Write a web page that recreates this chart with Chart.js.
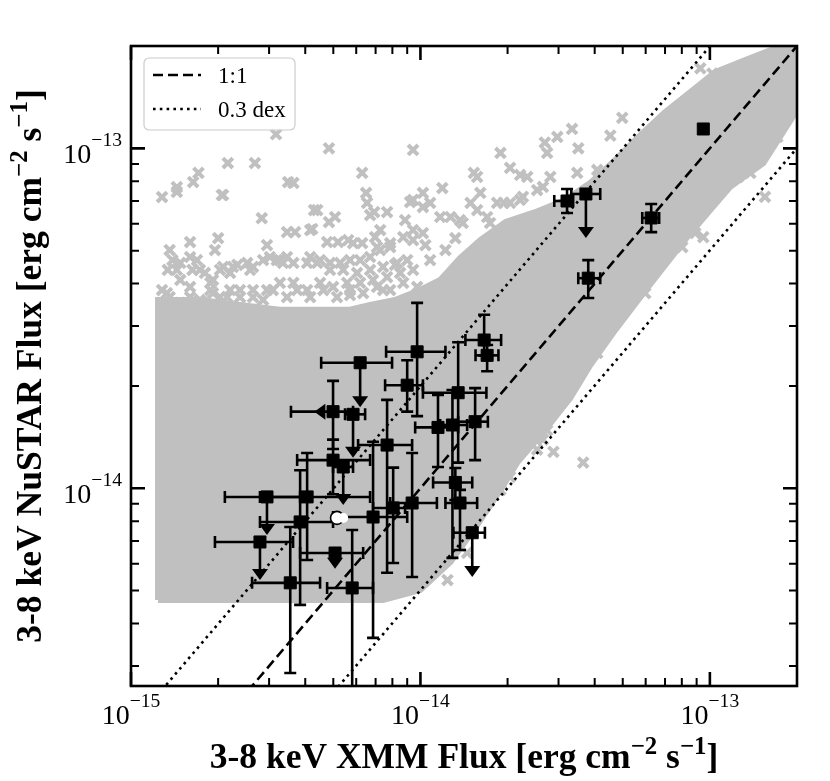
<!DOCTYPE html>
<html>
<head>
<meta charset="utf-8">
<script src="https://cdn.jsdelivr.net/npm/chart.js@4.4.1/dist/chart.umd.min.js"></script>
<style>
html,body{margin:0;padding:0;background:#fff;}
#wrap{width:830px;height:781px;position:relative;}
</style>
</head>
<body>
<div id="wrap"><canvas id="c" width="830" height="781"></canvas></div>
<script>
// ---------------- DATA (fluxes in units of 1e-15 erg cm^-2 s^-1) ----------------
const UNIT = 1e-15;

// dense core of the comparison sample (outline of the solid grey region)
const coreX = [1.24, 7.43, 9.98, 12.7, 15.7, 18.9, 21.6, 26.9, 32.9, 38.6, 47.1, 58.9, 70.1, 83.5, 100.3, 117.6, 153, 200, 200,
               162, 132.5, 104.3, 85.6, 70.1, 57.5, 47.1, 38.6, 31.6, 24.9, 19.7, 16.1, 13.7, 11.7, 9.98, 8.17, 6.70, 5.71, 4.50, 3.27, 2.38, 1.73, 1.24, 1.24];
const coreY = [4.69, 4.69, 5.02, 6.07, 7.80, 9.89, 11.9, 14.8, 18.4, 23.0, 29.2, 37.5, 45.3, 54.8, 65.8, 77.0, 90.5, 129.6, 199,
               194.5, 181.8, 167.6, 146.4, 127.8, 109.4, 92.4, 79.1, 70.5, 64.9, 60.7, 53.7, 47.5, 41.0, 38.3, 35.8, 34.6, 33.5, 33.5, 33.5, 34.6, 35.8, 35.8, 4.69];

// individual comparison-sample sources outside the dense core
const cloudX = [3.17,4.83,9.43,2.16,2.68,1.71,1.44,1.28,1.64,2.06,3.49,3.64,6.29,6.49,6.54,4.29,2.83,4.83,5.07,6.92,
  7.67,3.46,3.69,4.23,5.19,5.63,6.29,1.60,2.0,1.95,2.95,6.97,7.26,9.21,8.85,1.36,1.39,1.34,1.48,1.69,
  1.73,1.80,1.92,2.08,2.20,2.33,2.52,2.64,2.86,3.02,3.27,3.46,3.64,4.06,4.50,4.87,5.28,5.71,6.19,6.70,
  7.26,7.86,8.72,9.43,1.33,1.48,1.60,1.77,1.92,2.15,2.38,2.64,2.95,3.27,3.64,4.06,4.50,4.99,5.58,6.19,
  6.86,7.67,8.51,9.43,49.8,33.4,26.9,29.7,35.1,27.4,
  18.9,45.3,20.4,22.1,23.4,28.1,34.8,40.8,15.3,15.7,11.9,10.2,16.1,14.9,10.8,12.7,14.0,17.0,18.4,20.4,
  22.6,25.3,26.5,40.8,44.2,92.7,102,83.5,90.5,75.9,71.2,66.3,58.9,124,138,171,185,146,138,125,
  155,89.0,94.9,80.3,65.7,62.2,59.8,50.2,45.3,40.8,36.5,33.7,36.5,28.8,26.5,27.4,25.3,20.4,18.9,17.0,
  14.5,12.4,10.8,12.2,13.2,10.4,8.17,7.43,5.71,
  1.44,2.08,4.40,6.70,4.16,4.76,5.85,7.08,7.86,9.43,10.2,9.43,10.2,11.7,13.7,15.7,17.4,19.4,22.1,1.60,
  1.63,1.44,1.48,1.88,2.03,2.25,2.58,3.19,3.35,4.16,4.40,4.87,5.41,6.04,6.70,7.43,8.31,9.0,1.28,1.36,
  1.60,1.73,1.88,2.03,2.20,2.38,2.64,2.86,3.09,3.46,3.75,4.16,4.62,5.15,5.71,6.34,7.08,7.86,8.72,9.74];
const cloudY = [110,100,98.9,90.5,90.5,84.7,76.9,71.9,79.6,72.9,79.6,79.1,84.7,73.9,69.1,65.8,62.3,60.7,62.8,64.9,
  64.9,56.7,56.7,57.9,53.0,53.7,52.6,53.0,54.4,50.2,51.9,54.8,57.5,69.5,61.5,50.2,46.9,43.9,46.0,46.9,
  43.9,43.0,41.0,44.8,43.0,45.4,46.0,44.8,46.9,47.9,46.9,47.9,46.0,46.0,46.9,46.0,46.0,46.9,46.9,47.9,
  50.2,52.6,54.8,57.5,37.5,35.1,36.5,35.1,37.5,36.5,38.3,36.5,38.3,40.2,40.2,38.3,40.2,39.1,40.2,40.2,
  41.0,41.8,43.0,43.9,123,114,104,108,100,96.9,
  96.9,109,87.6,83.5,82.4,82.4,84.7,86.4,84.7,82.4,76.4,73.9,73.9,69.1,69.1,62.8,60.3,62.8,69.1,69.1,
  72.0,75.4,77.0,79.1,82.4,172,166,137,129.6,123.6,115.5,115.5,105.8,170,162,108,139,94.3,84.7,82.4,
  72.0,56.3,54.8,51.2,46.0,43.9,37.5,35.1,32.8,25.0,23.3,21.2,11.9,12.8,13.9,14.8,13.0,10.8,9.89,9.05,
  6.46,5.37,46.9,50.2,54.4,51.9,45.4,38.3,37.0,
  74.4,72.9,65.8,63.6,57.5,53.0,52.6,51.2,51.2,53.7,56.3,70.5,67.2,62.8,61.5,65.8,60.3,69.1,70.5,47.9,
  43.9,43.9,41.0,40.2,43.9,44.8,43.9,46.9,46.0,47.9,46.0,43.9,43.9,43.0,43.9,44.8,46.0,46.9,38.3,36.5,
  39.1,35.8,38.3,36.5,38.3,36.5,38.3,35.8,38.3,36.5,38.3,36.5,38.3,36.5,38.3,37.5,39.1,38.3,40.2,39.1];

// NuSTAR-detected sources: XMM flux (x) and NuSTAR flux (y) with error ranges
const srcX   = [94.9, 32.1, 37.3, 62.7, 38.0, 16.6, 17.0, 9.74, 6.19, 9.0, 4.99, 5.85, 7.67, 13.5, 11.5, 12.9, 15.45, 13.2, 13.7, 15.1, 9.36, 8.05, 6.86, 5.81, 5.07, 5.41, 4.99, 4.06, 3.84, 2.95, 2.79, 3.55];
const srcXlo = [null, 29.0, 33.2, 58.4, 35.1, 14.3, 15.5, 7.61, 4.54, 7.55, 3.57, 5.49, 6.09, 10.2, 9.59, 11.7, 13.5, 11.06, 12.2, 13.0, 7.86, 6.86, 4.99, 4.76, 3.84, 4.99, 3.75, 2.79, 2.79, 2.11, 1.95, 2.62];
const srcXhi = [null, 33.7, 41.8, 66.8, 41.8, 19.0, 18.6, 12.2, 7.98, 10.2, 5.85, 6.44, 9.36, 16.9, 13.5, 14.5, 17.1, 15.1, 15.7, 16.7, 11.4, 8.85, 9.0, 6.86, 6.34, 5.85, 6.70, 6.70, 4.99, 3.84, 3.63, 4.50];
const srcY   = [114, 70.0, 73.4, 62.4, 41.5, 27.3, 24.6, 25.2, 23.4, 20.1, 16.8, 16.5, 13.4, 19.1, 15.1, 15.35, 15.7, 10.4, 9.05, 7.4, 9.05, 8.75, 8.23, 5.09, 6.45, 11.55, 12.1, 9.43, 7.96, 9.43, 6.95, 5.27];
const srcYlo = [null, 64.5, null, 56.7, 36.3, 24.6, 22.1, 16.3, null, 16.8, 13.05, null, 5.64, 11.9, 11.55, 6.24, 12.1, 9.24, 6.58, null, 5.48, 6.03, 3.63, 2.4, null, null, 9.6, 6.15, 4.54, null, null, 2.86];
const srcYhi = [null, 75.9, null, 68.6, 46.9, 32.4, 26.4, 35.1, null, 23.8, 20.7, null, 18.2, 26.9, 18.8, 19.45, 19.7, 11.47, 9.89, null, 12.7, 11.5, 13.7, 7.54, null, null, 13.9, 12.7, 11.3, null, null, 7.69];
// NuSTAR upper limits (arrow end) and XMM upper limit (left arrow end)
const srcYupper = [null, null, 54.5, null, null, null, null, null, 17.3, null, null, 12.3, null, null, null, null, null, null, null, 5.48, null, null, null, null, 5.8, 8.93, null, null, null, 7.29, 5.37, null];
const srcXupper = [null, null, null, null, null, null, null, null, null, null, 4.3, null, null, null, null, null, null, null, null, null, null, null, null, null, null, null, null, null, null, null, null, null];

// highlighted source (circle markers)
const specialX = [5.15, 5.41];
const specialY = [8.18, 8.18];

// reference relations
const oneToOneX = [1, 200];
const dexOffset = 0.3;

// axes
const xLimits = [1, 200];
const yLimits = [2.62, 200];
const xMajorTicks = [1, 10, 100];
const yMajorTicks = [10, 100];
const xTickExp = ['\u221215', '\u221214', '\u221213'];
const yTickExp = ['\u221214', '\u221213'];

const xTitle = [{t: '3-8 keV XMM Flux [erg cm'}, {t: '\u22122', sup: true}, {t: ' s'}, {t: '\u22121', sup: true}, {t: ']'}];
const yTitle = [{t: '3-8 keV NuSTAR Flux [erg cm'}, {t: '\u22122', sup: true}, {t: ' s'}, {t: '\u22121', sup: true}, {t: ']'}];
const legendLabels = ['1:1', '0.3 dex'];

// ---------------- helpers ----------------
const pts = (xs, ys) => xs.map((x, i) => ({x: x * UNIT, y: ys[i] * UNIT}));
const GREY = '#c0c0c0';
const SERIF = '"Liberation Serif", "Times New Roman", serif';

function drawSegs(ctx, segs, x, y, size, bold, align, supRaise) {
  const w = bold ? 'bold ' : '';
  let total = 0;
  const widths = segs.map(s => {
    ctx.font = w + (s.sup ? size * 0.7 : size) + 'px ' + SERIF;
    const m = ctx.measureText(s.t).width;
    total += m;
    return m;
  });
  let cx = align === 'center' ? x - total / 2 : (align === 'right' ? x - total : x);
  segs.forEach((s, i) => {
    ctx.font = w + (s.sup ? size * 0.7 : size) + 'px ' + SERIF;
    ctx.textAlign = 'left';
    ctx.textBaseline = 'alphabetic';
    ctx.fillText(s.t, cx, s.sup ? y - supRaise : y);
    cx += widths[i];
  });
}

const srcIndex = 1;

const decorPlugin = {
  id: 'decor',
  beforeDatasetDraw(chart, args) {
    if (args.index !== srcIndex) return;
    const ctx = chart.ctx, xs = chart.scales.x, ys = chart.scales.y, a = chart.chartArea;
    ctx.save();
    ctx.beginPath();
    ctx.rect(a.left, a.top, a.width, a.height);
    ctx.clip();
    ctx.strokeStyle = '#000';
    ctx.fillStyle = '#000';
    ctx.lineWidth = 2.6;
    ctx.lineCap = 'butt';
    const cap = 6;
    const P = (v, s) => s.getPixelForValue(v * UNIT);
    for (let i = 0; i < srcX.length; i++) {
      const px = P(srcX[i], xs), py = P(srcY[i], ys);
      if (srcXlo[i] != null) {
        const x1 = P(srcXlo[i], xs), x2 = P(srcXhi[i], xs);
        ctx.beginPath(); ctx.moveTo(x1, py); ctx.lineTo(x2, py); ctx.stroke();
        ctx.beginPath(); ctx.moveTo(x1, py - cap); ctx.lineTo(x1, py + cap);
        ctx.moveTo(x2, py - cap); ctx.lineTo(x2, py + cap); ctx.stroke();
      }
      if (srcYlo[i] != null) {
        const y1 = P(srcYlo[i], ys), y2 = P(srcYhi[i], ys);
        ctx.beginPath(); ctx.moveTo(px, y1); ctx.lineTo(px, y2); ctx.stroke();
        ctx.beginPath(); ctx.moveTo(px - cap, y1); ctx.lineTo(px + cap, y1);
        ctx.moveTo(px - cap, y2); ctx.lineTo(px + cap, y2); ctx.stroke();
      }
      if (srcYupper[i] != null) {
        const ty = P(srcYupper[i], ys);
        ctx.beginPath(); ctx.moveTo(px, py); ctx.lineTo(px, ty - 6); ctx.stroke();
        ctx.beginPath(); ctx.moveTo(px - 8, ty - 11); ctx.lineTo(px + 8, ty - 11); ctx.lineTo(px, ty); ctx.closePath(); ctx.fill();
      }
      if (srcXupper[i] != null) {
        const tx = P(srcXupper[i], xs);
        ctx.beginPath(); ctx.moveTo(tx, py); ctx.lineTo(tx + 11, py - 8); ctx.lineTo(tx + 11, py + 8); ctx.closePath(); ctx.fill();
      }
    }
    ctx.restore();
  },
  afterDraw(chart) {
    const ctx = chart.ctx, xs = chart.scales.x, ys = chart.scales.y, a = chart.chartArea;
    ctx.save();
    ctx.strokeStyle = '#000';
    ctx.fillStyle = '#000';
    ctx.lineCap = 'butt';
    // ticks (inward, all four sides)
    const xMinor = [], yMinor = [];
    xMajorTicks.forEach(d => { for (let k = 2; k <= 9; k++) if (d * k <= xLimits[1] + 1e-9) xMinor.push(d * k); });
    [1, 10, 100].forEach(d => { for (let k = 2; k <= 9; k++) { const v = d * k; if (v >= yLimits[0] && v <= yLimits[1] + 1e-9) yMinor.push(v); } });
    const tickX = (vals, len, lw) => {
      ctx.lineWidth = lw;
      vals.forEach(v => {
        const p = xs.getPixelForValue(v * UNIT);
        ctx.beginPath();
        ctx.moveTo(p, a.bottom); ctx.lineTo(p, a.bottom - len);
        ctx.moveTo(p, a.top); ctx.lineTo(p, a.top + len);
        ctx.stroke();
      });
    };
    const tickY = (vals, len, lw) => {
      ctx.lineWidth = lw;
      vals.forEach(v => {
        const p = ys.getPixelForValue(v * UNIT);
        ctx.beginPath();
        ctx.moveTo(a.left, p); ctx.lineTo(a.left + len, p);
        ctx.moveTo(a.right, p); ctx.lineTo(a.right - len, p);
        ctx.stroke();
      });
    };
    tickX(xMinor, 8, 2);
    tickY(yMinor, 8, 2);
    tickX(xMajorTicks, 14, 2.6);
    tickY(yMajorTicks, 14, 2.6);
    // frame
    ctx.lineWidth = 2.6;
    ctx.strokeRect(a.left, a.top, a.width, a.height);

    // tick labels
    xMajorTicks.forEach((v, i) => {
      const p = xs.getPixelForValue(v * UNIT);
      drawSegs(ctx, [{t: '10'}, {t: xTickExp[i], sup: true}], p, a.bottom + 38, 28, false, 'center', 17);
    });
    yMajorTicks.forEach((v, i) => {
      const p = ys.getPixelForValue(v * UNIT);
      drawSegs(ctx, [{t: '10'}, {t: yTickExp[i], sup: true}], a.left - 9, p + 15, 28, false, 'right', 17);
    });

    // axis titles
    drawSegs(ctx, xTitle, (a.left + a.right) / 2, 768, 35.5, true, 'center', 14);
    ctx.save();
    ctx.translate(41, (a.top + a.bottom) / 2);
    ctx.rotate(-Math.PI / 2);
    drawSegs(ctx, yTitle, 0, 0, 35.5, true, 'center', 14);
    ctx.restore();

    // legend
    const lx = a.left + 13, ly = a.top + 12, lw = 151, lh = 72, r = 5;
    ctx.beginPath();
    ctx.moveTo(lx + r, ly); ctx.lineTo(lx + lw - r, ly); ctx.arcTo(lx + lw, ly, lx + lw, ly + r, r);
    ctx.lineTo(lx + lw, ly + lh - r); ctx.arcTo(lx + lw, ly + lh, lx + lw - r, ly + lh, r);
    ctx.lineTo(lx + r, ly + lh); ctx.arcTo(lx, ly + lh, lx, ly + lh - r, r);
    ctx.lineTo(lx, ly + r); ctx.arcTo(lx, ly, lx + r, ly, r);
    ctx.closePath();
    ctx.fillStyle = 'rgba(255,255,255,0.8)';
    ctx.fill();
    ctx.strokeStyle = '#cccccc';
    ctx.lineWidth = 1.2;
    ctx.stroke();
    ctx.strokeStyle = '#000';
    ctx.lineWidth = 2.6;
    ctx.setLineDash([10, 5]);
    ctx.beginPath(); ctx.moveTo(lx + 9, ly + 17); ctx.lineTo(lx + 57, ly + 17); ctx.stroke();
    ctx.setLineDash([2.6, 4.2]);
    ctx.beginPath(); ctx.moveTo(lx + 9, ly + 51); ctx.lineTo(lx + 57, ly + 51); ctx.stroke();
    ctx.setLineDash([]);
    ctx.fillStyle = '#000';
    drawSegs(ctx, [{t: legendLabels[0]}], lx + 74, ly + 25, 23, false, 'left', 0);
    drawSegs(ctx, [{t: legendLabels[1]}], lx + 74, ly + 59, 23, false, 'left', 0);
    ctx.restore();
  }
};

const dexFactor = Math.pow(10, dexOffset);

const chart = new Chart(document.getElementById('c'), {
  type: 'scatter',
  data: {
    datasets: [
      { // highlighted source
        data: pts(specialX, specialY),
        pointStyle: 'circle',
        pointRadius: [6.5, 5],
        pointBackgroundColor: ['#ffffff', '#ffffff'],
        pointBorderColor: ['#000000', '#ffffff'],
        pointBorderWidth: [1.6, 0],
        order: 0
      },
      { // NuSTAR sources
        data: pts(srcX, srcY),
        pointStyle: 'rect',
        pointRadius: 8.5,
        pointBackgroundColor: '#000',
        pointBorderColor: '#000',
        pointBorderWidth: 1,
        order: 1
      },
      { // 1:1
        data: oneToOneX.map(v => ({x: v * UNIT, y: v * UNIT})),
        showLine: true, borderColor: '#000', borderWidth: 2.6, borderDash: [10, 5],
        pointRadius: 0, order: 2
      },
      { // +0.3 dex
        data: oneToOneX.map(v => ({x: v * UNIT, y: v * dexFactor * UNIT})),
        showLine: true, borderColor: '#000', borderWidth: 2.6, borderDash: [2.6, 4.2],
        pointRadius: 0, order: 3
      },
      { // -0.3 dex
        data: oneToOneX.map(v => ({x: v * UNIT, y: v / dexFactor * UNIT})),
        showLine: true, borderColor: '#000', borderWidth: 2.6, borderDash: [2.6, 4.2],
        pointRadius: 0, order: 4
      },
      { // comparison sample, scattered sources
        data: pts(cloudX, cloudY),
        pointStyle: 'crossRot',
        pointRadius: 7,
        pointBorderWidth: 4,
        pointBorderColor: GREY,
        pointBackgroundColor: GREY,
        order: 5
      },
      { // comparison sample, dense core
        data: pts(coreX, coreY),
        showLine: true,
        fill: 'shape',
        backgroundColor: GREY,
        borderColor: GREY,
        borderWidth: 6,
        pointRadius: 0,
        tension: 0,
        order: 6
      }
    ]
  },
  options: {
    responsive: false,
    animation: false,
    devicePixelRatio: 1,
    events: [],
    layout: { padding: { left: 131, right: 33, top: 46, bottom: 95 } },
    scales: {
      x: { type: 'logarithmic', min: xLimits[0] * UNIT, max: xLimits[1] * UNIT, display: false },
      y: { type: 'logarithmic', min: yLimits[0] * UNIT, max: yLimits[1] * UNIT, display: false }
    },
    plugins: { legend: { display: false }, tooltip: { enabled: false } }
  },
  plugins: [decorPlugin]
});
</script>
</body>
</html>
